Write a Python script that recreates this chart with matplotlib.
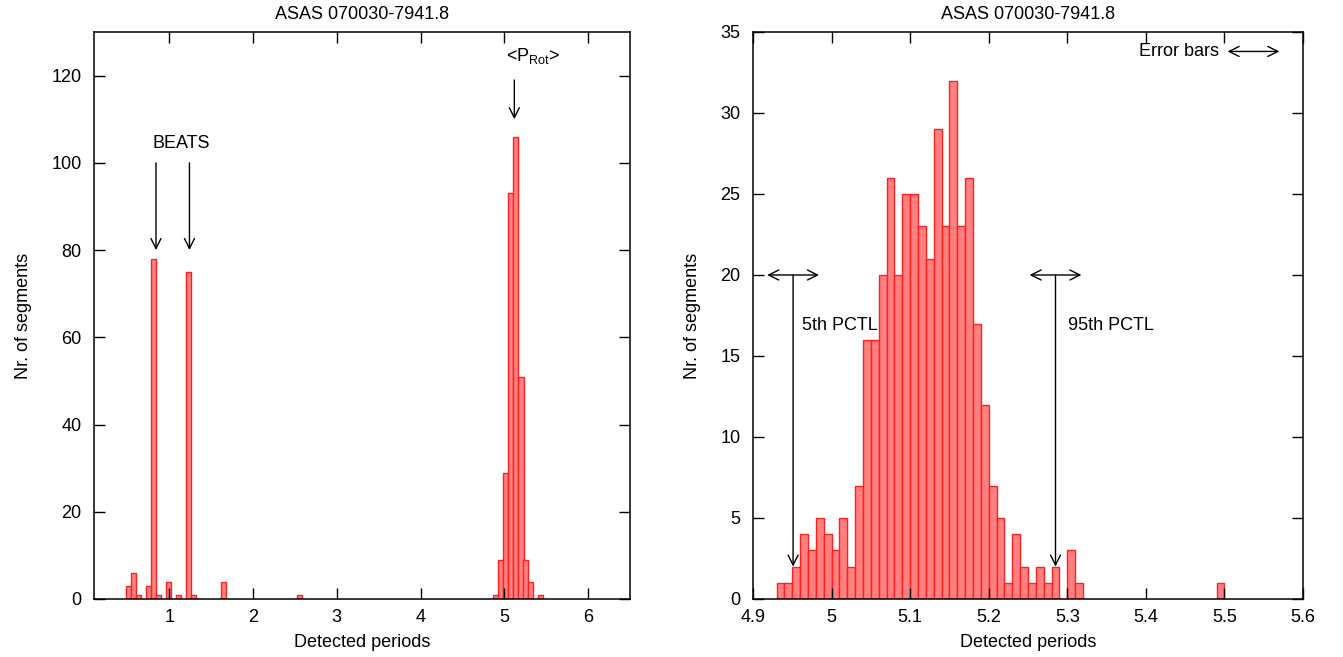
import matplotlib
matplotlib.use('Agg')
import matplotlib.pyplot as plt

plt.rcParams['font.family'] = ['Liberation Sans', 'DejaVu Sans']
plt.rcParams['font.size'] = 13

title = 'ASAS 070030-7941.8'

# left histogram: all detected periods (bin centres)
left_periods = [0.512, 0.572, 0.636, 0.749, 0.808, 0.872, 0.992, 1.111, 1.23, 1.293,
                1.65, 2.55, 4.892, 4.95, 5.016, 5.075, 5.135, 5.2, 5.258, 5.318, 5.437]
left_counts = [3, 6, 1, 3, 78, 1, 4, 1, 75, 1,
               4, 1, 1, 9, 29, 93, 106, 51, 9, 4, 1]

# right histogram: zoom on the rotation period
right_periods = [4.935, 4.945, 4.955, 4.965, 4.975, 4.985, 4.995, 5.005, 5.015, 5.025,
                 5.035, 5.045, 5.055, 5.065, 5.075, 5.085, 5.095, 5.105, 5.115, 5.125,
                 5.135, 5.145, 5.155, 5.165, 5.175, 5.185, 5.195, 5.205, 5.215, 5.225,
                 5.235, 5.245, 5.255, 5.265, 5.275, 5.285, 5.295, 5.305, 5.315, 5.495]
right_counts = [1, 1, 2, 4, 3, 5, 4, 3, 5, 2,
                7, 16, 16, 20, 26, 20, 25, 25, 23, 21,
                29, 23, 32, 23, 26, 17, 12, 7, 5, 1,
                4, 2, 1, 2, 1, 2, 0, 3, 1, 1]

beat_periods = [0.84, 1.24]
prot_period = 5.12
pctl_5 = 4.951
pctl_95 = 5.285
pctl_err = 0.033

fig = plt.figure(figsize=(13.43, 6.57), dpi=100)
ax1 = fig.add_axes([0.070, 0.0883, 0.399, 0.863])
ax2 = fig.add_axes([0.5607, 0.0883, 0.4095, 0.863])

bar_kw = dict(facecolor='#ff8080', edgecolor='#ff2020', linewidth=1.0)
ax1.bar(left_periods, left_counts, width=0.0605, **bar_kw)
ax2.bar(right_periods, right_counts, width=0.01, **bar_kw)

arrow = dict(arrowstyle='->', color='k', lw=1, mutation_scale=18, shrinkA=0, shrinkB=0)
darrow = dict(arrowstyle='<->', color='k', lw=1, mutation_scale=18, shrinkA=0, shrinkB=0)

# left panel annotations
for p in beat_periods:
    ax1.annotate('', xy=(p, 80), xytext=(p, 100), arrowprops=arrow)
ax1.text(0.8, 104.5, 'BEATS', ha='left', va='center')
ax1.annotate('', xy=(prot_period, 110), xytext=(prot_period, 119), arrowprops=arrow)
ax1.text(5.34, 124.6, r'<P$_\mathregular{Rot}$>', ha='center', va='center')

# right panel annotations
for p in [pctl_5, pctl_95]:
    ax2.annotate('', xy=(p, 2), xytext=(p, 20), arrowprops=arrow)
    ax2.annotate('', xy=(p - pctl_err, 20), xytext=(p + pctl_err, 20), arrowprops=darrow)
ax2.text(4.962, 16.9, '5th PCTL', ha='left', va='center')
ax2.text(5.301, 16.9, '95th PCTL', ha='left', va='center')
ax2.text(5.493, 33.8, 'Error bars', ha='right', va='center')
ax2.annotate('', xy=(5.504, 33.8), xytext=(5.57, 33.8), arrowprops=darrow)

ax1.set_xlim(0.1, 6.5)
ax1.set_ylim(0, 130)
ax1.set_xticks([1, 2, 3, 4, 5, 6])
ax1.set_yticks([0, 20, 40, 60, 80, 100, 120])

ax2.set_xlim(4.9, 5.6)
ax2.set_ylim(0, 35)
ax2.set_xticks([4.9, 5.0, 5.1, 5.2, 5.3, 5.4, 5.5, 5.6])
ax2.set_xticklabels(['4.9', '5', '5.1', '5.2', '5.3', '5.4', '5.5', '5.6'])
ax2.set_yticks([0, 5, 10, 15, 20, 25, 30, 35])

for ax in (ax1, ax2):
    ax.set_title(title, fontsize=13, pad=9)
    ax.set_xlabel('Detected periods', labelpad=6)
    ax.set_ylabel('Nr. of segments', labelpad=14)
    ax.tick_params(direction='in', top=True, right=True, length=8, width=1)
    ax.tick_params(axis='x', pad=7)
    ax.tick_params(axis='y', pad=9)
    for s in ax.spines.values():
        s.set_linewidth(1.1)

fig.savefig('out.png', dpi=100)
